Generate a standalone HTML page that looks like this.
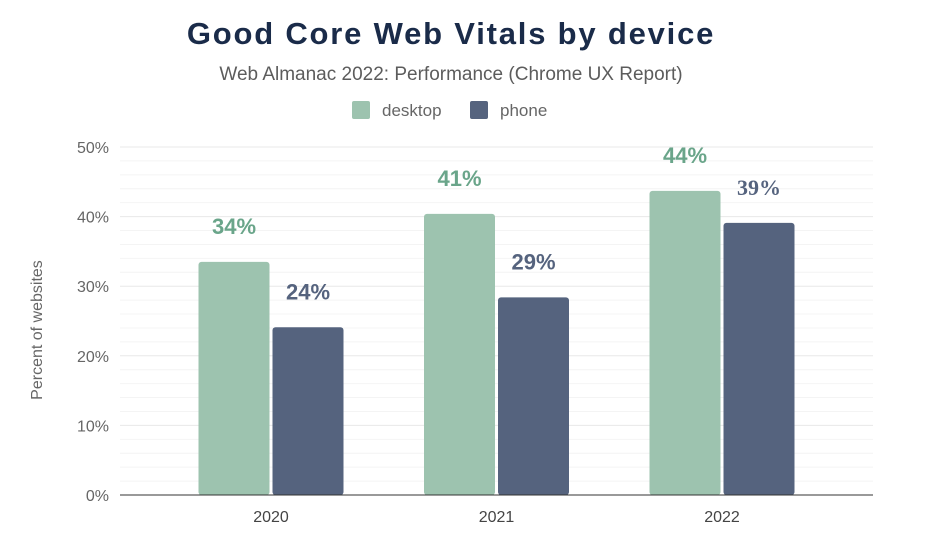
<!DOCTYPE html>
<html><head><meta charset="utf-8"><style>
body{margin:0;background:#fff;font-family:"Liberation Sans",sans-serif}
</style></head><body>
<svg width="940" height="550" xmlns="http://www.w3.org/2000/svg">
<text x="451" y="44" text-anchor="middle" font-size="31" font-weight="900" fill="#1a2b49" style="letter-spacing:1.8px">Good Core Web Vitals by device</text>
<text x="451" y="80" text-anchor="middle" font-size="19" fill="#5c5c5c">Web Almanac 2022: Performance (Chrome UX Report)</text>
<g>
<rect x="352" y="101" width="18" height="18" rx="2" fill="#9dc3af"/>
<text x="382" y="116" font-size="17" fill="#666">desktop</text>
<rect x="470" y="101" width="18" height="18" rx="2" fill="#55637e"/>
<text x="500" y="116" font-size="17" fill="#666">phone</text>
</g>
<g id="grid"></g><g id="bars"></g><g id="axes"></g>
<text transform="translate(42,330) rotate(-90)" text-anchor="middle" font-size="16" fill="#666">Percent of websites</text>
</svg>
<script>
const categories=["2020","2021","2022"];
const desktopValues=[33.5,40.4,43.7];
const phoneValues=[24.1,28.4,39.1];
const desktopLabels=["34%","41%","44%"];
const phoneLabels=["24%","29%","39%"];
const yTicks=[0,10,20,30,40,50];
const NS="http://www.w3.org/2000/svg";
const x0=120,x1=873,yb=495,yt=147;
const y=v=>yb-(v/50)*(yb-yt);
const cx=i=>271+i*225.5;
function mk(t,a,p){const e=document.createElementNS(NS,t);for(const k in a)e.setAttribute(k,a[k]);p.appendChild(e);return e;}
const grid=document.getElementById('grid'),bars=document.getElementById('bars'),axes=document.getElementById('axes');
for(let v=2;v<=50;v+=2){const l=mk('line',{x1:x0,x2:x1,y1:y(v),y2:y(v),stroke:v%10?'#f4f4f4':'#e8e8e8','stroke-width':1},grid);

}
yTicks.forEach(v=>{const t=mk('text',{x:109,y:y(v)+6,'text-anchor':'end','font-size':16,fill:'#666'},axes);t.textContent=v+'%';

});
const ax=mk('line',{x1:x0,x2:x1,y1:yb,y2:yb,stroke:'#333','stroke-width':1},axes);


categories.forEach((c,i)=>{
 const t=mk('text',{x:cx(i),y:yb+27,'text-anchor':'middle','font-size':16,fill:'#444'},axes);t.textContent=c;
 
 
 const bw=71;
 const d=mk('rect',{x:cx(i)-bw-1.5,y:y(desktopValues[i]),width:bw,height:yb-y(desktopValues[i]),rx:3,fill:'#9dc3af'},bars);
 
 
 const p=mk('rect',{x:cx(i)+1.5,y:y(phoneValues[i]),width:bw,height:yb-y(phoneValues[i]),rx:3,fill:'#55637e'},bars);
 
 
 const dl=mk('text',{x:cx(i)-bw/2-1.5,y:y(desktopValues[i])-28,'text-anchor':'middle','font-size':22,'font-weight':'bold',fill:'#6aa58a'},bars);dl.textContent=desktopLabels[i];
 
 
 const pl=mk('text',{x:cx(i)+bw/2+1.5,y:y(phoneValues[i])-28,'text-anchor':'middle','font-size':22,'font-weight':'bold',fill:'#55637e'},bars);pl.textContent=phoneLabels[i];
 if(i===2)pl.setAttribute('font-family','Liberation Serif');
 
 
});
</script>
</body></html>
